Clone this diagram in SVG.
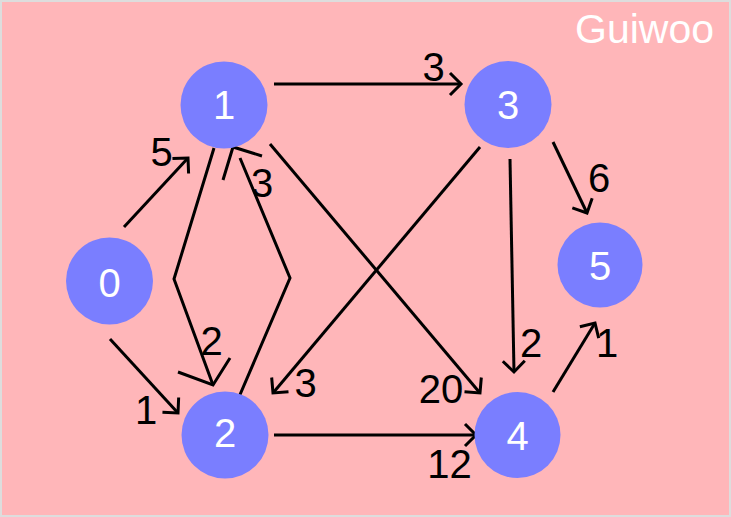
<svg xmlns="http://www.w3.org/2000/svg" width="731" height="517" viewBox="0 0 731 517">
<defs>
<style>
.node circle{fill:#7a7eff}
.node text{fill:#ffffff;font-family:"Liberation Sans",Arial,sans-serif;font-size:40px;text-anchor:middle}
.edge{fill:none;stroke:#000;stroke-width:3;stroke-linejoin:miter}
.lbl{fill:#000;font-family:"Liberation Sans",Arial,sans-serif;font-size:40px;text-anchor:middle}
</style>
<marker id="arr" markerUnits="userSpaceOnUse" markerWidth="30" markerHeight="30" viewBox="-15 -15 30 30" refX="0" refY="0" orient="auto" overflow="visible">
<path d="M-11,-11 L0,0 L-11,11" fill="none" stroke="#000" stroke-width="3"/>
</marker>
</defs>
<rect x="1" y="1" width="729" height="515" fill="#ffb6b9" stroke="#dddddd" stroke-width="2"/>
<text x="575" y="43" fill="#ffffff" font-family="Liberation Sans, Arial, sans-serif" font-size="41">Guiwoo</text>
<g id="connectors">
<line class="edge" x1="124" y1="227" x2="188" y2="158" marker-end="url(#arr)"/>
<line class="edge" x1="110" y1="339" x2="178" y2="413" marker-end="url(#arr)"/>
<line class="edge" x1="274" y1="84" x2="461" y2="84" marker-end="url(#arr)"/>
<line class="edge" x1="270" y1="144" x2="480" y2="393" marker-end="url(#arr)"/>
<line class="edge" x1="480" y1="147" x2="273" y2="393" marker-end="url(#arr)"/>
<line class="edge" x1="553" y1="142" x2="587" y2="213" marker-end="url(#arr)"/>
<line class="edge" x1="510" y1="159" x2="514" y2="372" marker-end="url(#arr)"/>
<line class="edge" x1="553" y1="392" x2="595" y2="323" marker-end="url(#arr)"/>
<line class="edge" x1="274" y1="435" x2="476" y2="435" marker-end="url(#arr)"/>
<polyline class="edge" points="214,148 174,279 213,385"/>
<polyline class="edge" points="178,372 213,385 230,358"/>
<polyline class="edge" points="239,397 290,278 240,158"/>
<polyline class="edge" points="223,180 233,147 262,156"/>
<text class="lbl" x="161.5" y="166">5</text>
<text class="lbl" x="146" y="424">1</text>
<text class="lbl" x="433.5" y="81">3</text>
<text class="lbl" x="262" y="197">3</text>
<text class="lbl" x="211.5" y="355">2</text>
<text class="lbl" x="599" y="192">6</text>
<text class="lbl" x="531" y="357">2</text>
<text class="lbl" x="607" y="357">1</text>
<text class="lbl" x="441" y="403">20</text>
<text class="lbl" x="305.5" y="397">3</text>
<text class="lbl" x="449.5" y="478">12</text>
</g>
<g id="node0" class="node"><circle cx="109.5" cy="281" r="43.5"/><text x="109.5" y="297">0</text></g>
<g id="node1" class="node"><circle cx="224" cy="105" r="43.5"/><text x="224" y="119">1</text></g>
<g id="node2" class="node"><circle cx="225" cy="435" r="43.5"/><text x="225" y="447">2</text></g>
<g id="node3" class="node"><circle cx="508" cy="104.5" r="43.5"/><text x="508" y="119">3</text></g>
<g id="node4" class="node"><circle cx="517.5" cy="435" r="43"/><text x="517.5" y="450">4</text></g>
<g id="node5" class="node"><circle cx="600" cy="265" r="42.5"/><text x="600" y="280">5</text></g>
</svg>
